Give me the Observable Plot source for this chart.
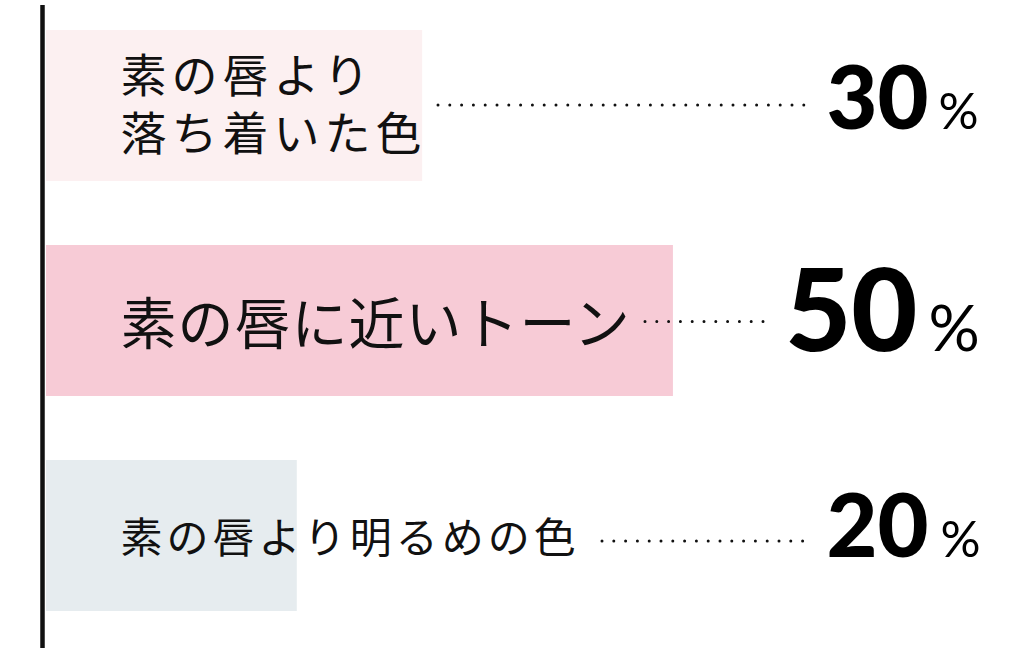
<!DOCTYPE html>
<html>
<head>
<meta charset="utf-8">
<script src="https://cdn.jsdelivr.net/npm/d3@7"></script>
<script src="https://cdn.jsdelivr.net/npm/@observablehq/plot@0.6"></script>
<style>
  html, body { margin: 0; padding: 0; background: #fff; }
  svg { display: block; }
</style>
</head>
<body>
<div id="chart"></div>
<script>
// ---- data ----
const categories = ["素の唇より\n落ち着いた色", "素の唇に近いトーン", "素の唇より明るめの色"];
const values = [30, 50, 20];
const valueLabels = ["30", "50", "20"];
const barColors = ["#fcf0f1", "#f7cbd6", "#e6ecef"];

const rows = categories.map((c, i) => ({category: c, value: values[i], label: valueLabels[i], color: barColors[i]}));

// ---- layout / style constants ----
const W = 1024, H = 653, ML = 46;
const xMax = 78;
const pxPerUnit = (W - ML) / xMax;
const px = (p) => (p - ML) / pxPerUnit; // pixel -> x units for decorative leaders
const labelSize = [46, 56, 42];
const labelSpacing = [5, 1, 4];
const labelDy = [-4, 0, 0];
const numSize = [88, 114, 88];
const numBase = [22.7, 29.5, 21];
const numEnd = [-96, -107, -96];
const pctSize = [50, 64, 50];
const pctStart = [-86, -96, -84];
const leader = [[438, 804, -1], [645, 764, 0.5], [602, 803, 5]];

const marks = [
  Plot.barX(rows, {y: "category", x: "value", fill: "color"}),
  Plot.ruleX([0], {dx: -4, stroke: "#111", strokeWidth: 4.5, insetTop: -25, insetBottom: -37})
];

rows.forEach((d, i) => {
  marks.push(Plot.text([d], {
    y: "category", x: 0, dx: 74, dy: labelDy[i], text: "category",
    textAnchor: "start", lineAnchor: "middle", lineHeight: 1.27,
    fontSize: labelSize[i],
    fontFamily: "'Noto Sans CJK JP', sans-serif", fill: "#111"
  }));
  marks.push(Plot.ruleY([d], {
    y: "category", x1: px(leader[i][0]), x2: px(leader[i][1]), dy: leader[i][2],
    stroke: "#111", strokeWidth: 3, strokeDasharray: "0,11.8", strokeLinecap: "round"
  }));
  marks.push(Plot.text([d], {
    y: "category", frameAnchor: "right", dx: numEnd[i], dy: numBase[i],
    text: "label", textAnchor: "end", lineAnchor: "bottom",
    fontSize: numSize[i], fontWeight: 900, fontFamily: "Lato, sans-serif", fill: "#000"
  }));
  marks.push(Plot.text([d], {
    y: "category", frameAnchor: "right", dx: pctStart[i], dy: numBase[i],
    text: () => "%", textAnchor: "start", lineAnchor: "bottom",
    fontSize: pctSize[i], fontWeight: 400, fontFamily: "Lato, sans-serif", fill: "#000"
  }));
});

const chart = Plot.plot({
  width: W, height: H,
  marginLeft: ML, marginRight: 0, marginTop: 30, marginBottom: 42,
  x: {domain: [0, xMax], axis: null},
  y: {domain: categories, axis: null, paddingInner: 0.3, paddingOuter: 0},
  color: {type: "identity"},
  style: {background: "#fff"},
  marks
});

// apply letter spacing to the category labels
d3.select(chart).selectAll("text").each(function() {
  const t = this.textContent;
  categories.forEach((c, i) => {
    if (t === c.replace(/\n/g, "")) this.setAttribute("letter-spacing", labelSpacing[i]);
  });
});
document.getElementById("chart").appendChild(chart);
</script>
</body>
</html>
